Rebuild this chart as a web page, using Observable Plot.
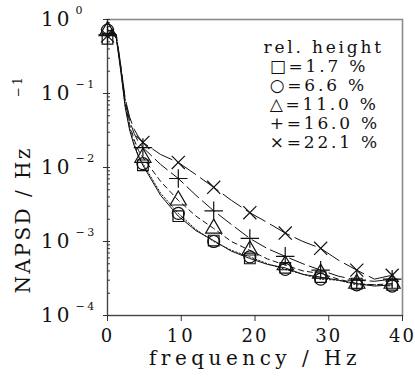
<!DOCTYPE html>
<html><head><meta charset="utf-8">
<script src="https://cdn.jsdelivr.net/npm/d3@7"></script>
<script src="https://cdn.jsdelivr.net/npm/@observablehq/plot@0.6"></script>
<style>
body{margin:0;background:#fff}
svg text{font-family:"DejaVu Serif",serif}
</style></head><body><div id="chart"></div>
<script>
const seriesNames = ["1.7 %", "6.6 %", "11.0 %", "16.0 %", "22.1 %"];
const symbols = ["square", "circle", "triangle", "plus", "times"];
const legendGlyphs = ["□", "○", "△", "+", "×"];
const dashes = ["none", "1.5,2", "5,4", "16,5", "22,6"];
const freq = [0, 0.6, 1.2, 1.8, 2.4, 3.0, 3.6, 4.2, 4.8, 7.2, 9.6, 12, 14.4, 16.8, 19.3, 21.7, 24.1, 26.5, 28.9, 31.3, 33.8, 36.2, 38.6];
const markerFreq = [0, 4.8, 9.6, 14.4, 19.3, 24.1, 28.9, 33.8, 38.6];
const s17 = [0.55, 0.68, 0.55, 0.20, 0.065, 0.032, 0.020, 0.014, 0.0107, 0.0042, 0.0022, 0.0014, 0.00103, 0.00074, 0.00059, 0.00049, 0.00044, 0.00036, 0.00033, 0.00030, 0.00027, 0.00025, 0.00026];
const s66 = [0.72, 0.70, 0.56, 0.21, 0.070, 0.034, 0.021, 0.0145, 0.0113, 0.0045, 0.0024, 0.00145, 0.00100, 0.00076, 0.00062, 0.00050, 0.00042, 0.00036, 0.00031, 0.00030, 0.00026, 0.00026, 0.00025];
const s110 = [0.70, 0.72, 0.58, 0.22, 0.075, 0.038, 0.024, 0.017, 0.0136, 0.0065, 0.0036, 0.0022, 0.0015, 0.00100, 0.00076, 0.00058, 0.00048, 0.00040, 0.00037, 0.00031, 0.00027, 0.00026, 0.00027];
const s160 = [0.62, 0.72, 0.60, 0.23, 0.080, 0.043, 0.029, 0.022, 0.0186, 0.011, 0.0071, 0.0042, 0.0026, 0.0017, 0.0011, 0.00080, 0.00063, 0.00050, 0.00041, 0.00034, 0.00030, 0.00029, 0.00031];
const s221 = [0.60, 0.75, 0.62, 0.24, 0.085, 0.048, 0.033, 0.026, 0.0218, 0.015, 0.0117, 0.0080, 0.0054, 0.0036, 0.00245, 0.0018, 0.0013, 0.00100, 0.00081, 0.00056, 0.00041, 0.00031, 0.00035];
const allSeries = [s17, s66, s110, s160, s221];
const yMajor = [1e-4, 1e-3, 1e-2, 1e-1, 1];
const yExp = ["−4", "−3", "−2", "−1", "0"];
const xTicks = [0, 10, 20, 30, 40];
const yTitle = "NAPSD / Hz";
const yTitleExp = "−1";
const xTitle = "frequency / Hz";

const rows = [];
allSeries.forEach((vals, si) => vals.forEach((v, i) => rows.push({s: si, f: freq[i], v})));
const markers = rows.filter(d => markerFreq.includes(d.f));
const yMinor = [];
for (let k = -4; k < 0; k++) for (let m = 2; m <= 9; m++) yMinor.push(m * Math.pow(10, k));

const legendText = ["rel. height", ...legendGlyphs.map((g, i) => "\u2009" + g + "=" + seriesNames[i])].join("\n");

const marks = [
  Plot.frame({stroke: "#8a8a8a", strokeWidth: 1.6}),
  Plot.ruleX([0], {stroke: "#444"}),
  Plot.ruleY([1e-4], {stroke: "#444"}),
  Plot.axisY(yMinor, {anchor: "left", tickSize: 3, dx: 3, tickFormat: () => "", label: null, stroke: "#333"}),
  Plot.axisY(yMajor, {anchor: "left", tickSize: 7, dx: 3, tickFormat: () => "", label: null, stroke: "#333"}),
  Plot.axisX(xTicks, {anchor: "bottom", tickSize: 6, tickPadding: 8, fontSize: 18, label: null, stroke: "#333", fill: "#111"}),
  Plot.text(yMajor, {y: d => d, text: () => "10", frameAnchor: "left", dx: -35, textAnchor: "end", fontSize: 20, fill: "#111"}),
  Plot.text(yMajor, {y: d => d, text: (d, i) => yExp[i], frameAnchor: "left", dx: -32, dy: -9, textAnchor: "start", fontSize: 11, fill: "#111"}),
  ...allSeries.map((vals, si) => Plot.line(rows.filter(d => d.s === si), {x: "f", y: "v", stroke: "#111", strokeWidth: 1, strokeDasharray: dashes[si]})),
  ...symbols.map((sym, si) => Plot.dot(markers.filter(d => d.s === si), {x: "f", y: "v", symbol: () => sym, r: 6, stroke: "#111", strokeWidth: 1.2, fill: "none"})),
  Plot.text([legendText], {frameAnchor: "top-left", dx: 156, dy: 20, lineAnchor: "top", textAnchor: "start", lineHeight: 1.12, fontSize: 17, fill: "#111"}),
  Plot.text([xTitle], {frameAnchor: "bottom", dy: 49, fontSize: 20, fill: "#111"}),
  Plot.text([yTitle], {frameAnchor: "left", dx: -84, dy: 126, rotate: -90, textAnchor: "start", fontSize: 20, fill: "#111"}),
  Plot.text([yTitleExp], {frameAnchor: "left", dx: -89, dy: -70, rotate: -90, textAnchor: "start", fontSize: 12, fill: "#111"})
];

const chart = Plot.plot({
  width: 415, height: 382,
  marginLeft: 107, marginRight: 13, marginTop: 19, marginBottom: 67,
  x: {domain: [0, 40]},
  y: {type: "log", domain: [1e-4, 1]},
  style: {background: "#fff", fontFamily: "DejaVu Serif, serif"},
  marks
});
document.getElementById("chart").appendChild(chart);

// letter spacing for the wide typewriter-like serif lettering
const spacing = [
  [t => t === xTitle, "4.5px"],
  [t => t === yTitle, "2.5px"],
  [t => t.startsWith("rel. height"), "2.8px"],
  [t => t === "10", "3px"],
  [t => /^\d+$/.test(t), "2px"],
  [t => t.startsWith("−"), "2.5px"]
];
d3.select(chart).selectAll("text").each(function() {
  const t = this.textContent;
  for (const [test, ls] of spacing) if (test(t)) { this.style.letterSpacing = ls; break; }
});
</script></body></html>
